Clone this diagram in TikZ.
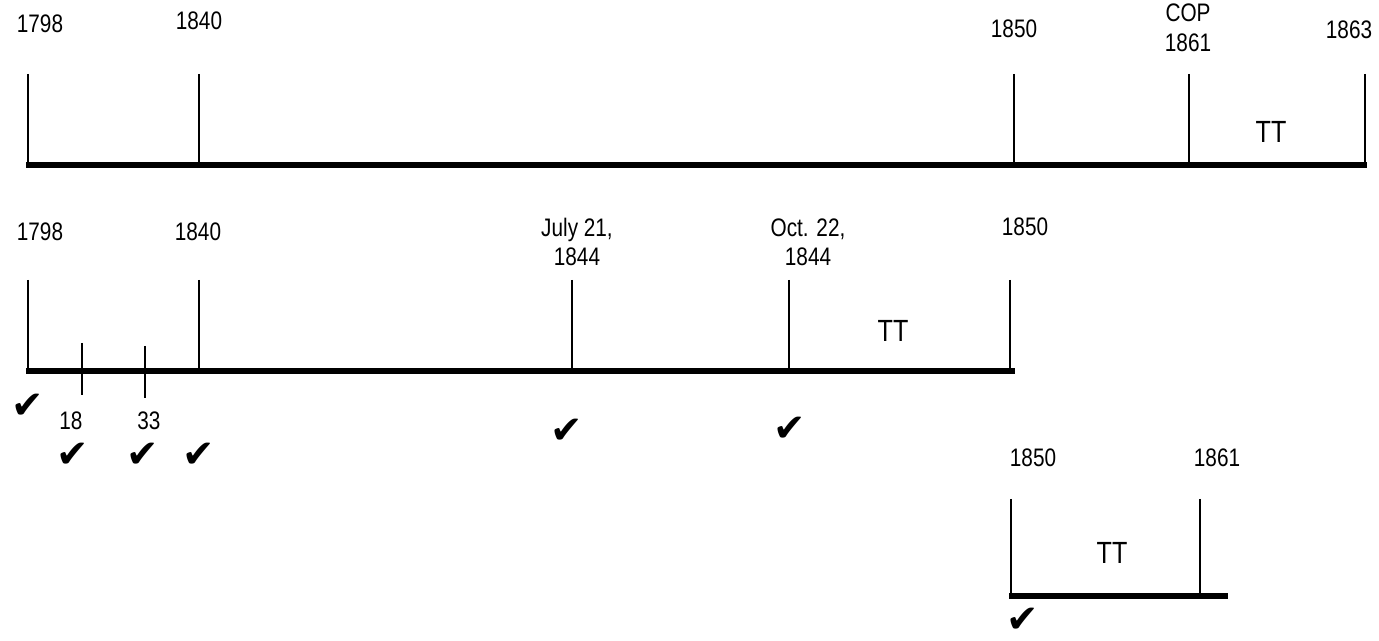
\documentclass[tikz,border=0pt]{standalone}
\usepackage{fontspec}
\setmainfont{Liberation Sans}[FakeStretch=0.82]
\newfontfamily\checkfont{DejaVu Sans}
\begin{document}
\begin{tikzpicture}[x=0.75pt,y=-0.75pt,
  lbl/.style={inner sep=0pt,font=\fontsize{19pt}{22pt}\selectfont,align=center},
  big/.style={inner sep=0pt,font=\fontsize{23pt}{26pt}\selectfont},
  chk/.style={inner sep=0pt,font=\checkfont\fontsize{29pt}{30pt}\selectfont},
  axis/.style={line width=3.8pt},
  tick/.style={line width=0.9pt}]
\useasboundingbox (0,0) rectangle (1379,641);
% ---------- timeline 1 ----------
\coordinate (a1) at (26,165); \coordinate (a2) at (1367,165);
\draw[axis] (a1) -- (a2);
\foreach \n/\x in {t1798/28,t1840/199,t1850/1014,t1861/1189,t1863/1365}{
  \coordinate (\n top) at (\x,74); \coordinate (\n bot) at (\x,165);
  \draw[tick] (\n top) -- (\n bot);}
\node[lbl] (l1798) at (40,24) {1798};
\node[lbl] (l1840) at (199,21) {1840};
\node[lbl] (l1850) at (1014,29) {1850};
\node[lbl] (lcop) at (1188,13) {COP};
\node[lbl] (l1861) at (1188,43) {1861};
\node[lbl] (l1863) at (1349,30) {1863};
\node[big] (tt1) at (1271,132) {TT};
% ---------- timeline 2 ----------
\coordinate (b1) at (26,371); \coordinate (b2) at (1015,371);
\draw[axis] (b1) -- (b2);
\foreach \n/\x in {s1798/28,s1840/199,sjul/572,soct/789,s1850/1010}{
  \coordinate (\n top) at (\x,280); \coordinate (\n bot) at (\x,371);
  \draw[tick] (\n top) -- (\n bot);}
\coordinate (s18top) at (82,343); \coordinate (s18bot) at (82,395);
\coordinate (s33top) at (145,346); \coordinate (s33bot) at (145,398);
\draw[tick] (s18top) -- (s18bot);
\draw[tick] (s33top) -- (s33bot);
\node[lbl] (m1798) at (40,232) {1798};
\node[lbl] (m1840) at (198,232) {1840};
\node[lbl] (mjul) at (577,242) {July 21,\\1844};
\node[lbl] (moct) at (808,242) {Oct. 22,\\1844};
\node[lbl] (m1850) at (1025,227) {1850};
\node[big] (tt2) at (893,331) {TT};
\node[lbl] (m18) at (71,421) {18};
\node[lbl] (m33) at (149,421) {33};
\node[chk] (c1) at (28,406) {✔};
\node[chk] (c2) at (73,455) {✔};
\node[chk] (c3) at (143,455) {✔};
\node[chk] (c4) at (199,455) {✔};
\node[chk] (c5) at (567,431) {✔};
\node[chk] (c6) at (790,429) {✔};
% ---------- timeline 3 ----------
\coordinate (d1) at (1009,596); \coordinate (d2) at (1228,596);
\draw[axis] (d1) -- (d2);
\coordinate (u1top) at (1011,499); \coordinate (u1bot) at (1011,596);
\coordinate (u2top) at (1200,499); \coordinate (u2bot) at (1200,596);
\draw[tick] (u1top) -- (u1bot);
\draw[tick] (u2top) -- (u2bot);
\node[lbl] (n1850) at (1033,458) {1850};
\node[lbl] (n1861) at (1217,458) {1861};
\node[big] (tt3) at (1112,553) {TT};
\node[chk] (c7) at (1023,620) {✔};
\end{tikzpicture}
\end{document}
